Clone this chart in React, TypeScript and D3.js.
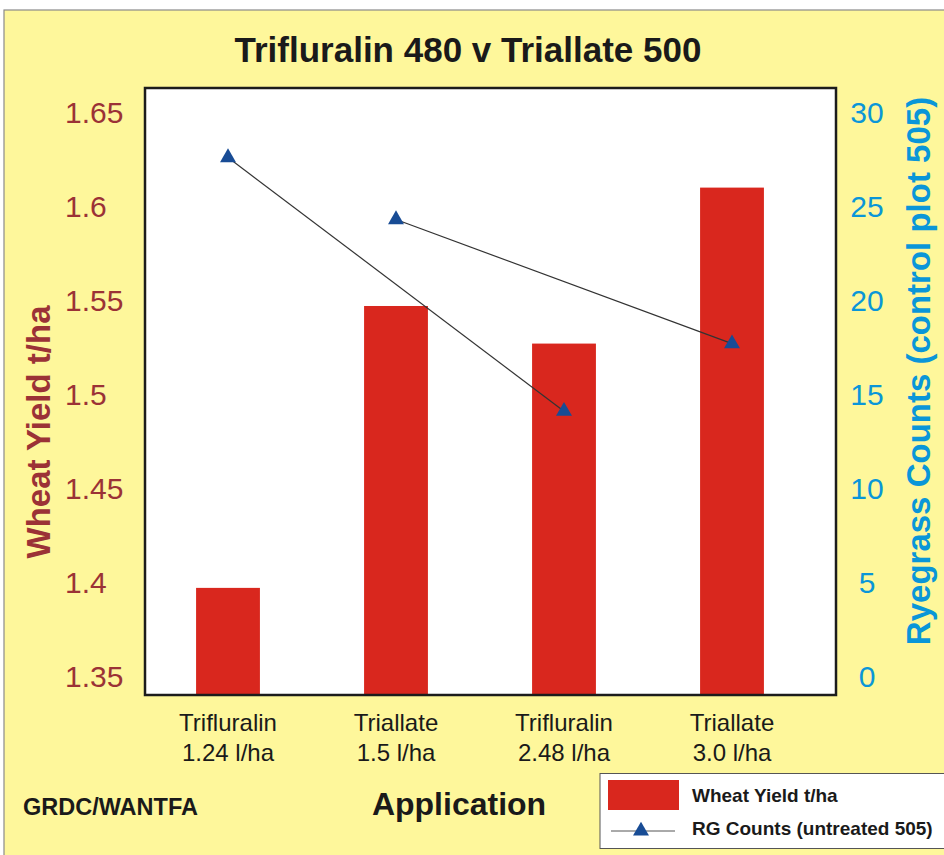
import * as d3 from "d3";

// ---------------- data ----------------
const products = ["Trifluralin", "Triallate", "Trifluralin", "Triallate"];
const rates = ["1.24 l/ha", "1.5 l/ha", "2.48 l/ha", "3.0 l/ha"];
const wheatYield = [1.397, 1.547, 1.527, 1.61];
const rgCounts = [27.6, 24.3, 14.1, 17.7];
const yieldTicks = [1.35, 1.4, 1.45, 1.5, 1.55, 1.6, 1.65];
const countTicks = [0, 5, 10, 15, 20, 25, 30];

const W = 944;
const H = 855;
const plot = { left: 145, right: 836, top: 88, bottom: 695 };

const BG = "#FEF79B";
const RED = "#D9271E";
const BLUE = "#184C95";
const BROWN = "#9B3236";
const CYAN = "#0A96D8";
const FONT = "'Liberation Sans', Arial, Helvetica, sans-serif";

const App = () => {
  const idx = products.map((_, i) => i);

  const x = d3
    .scaleBand<number>()
    .domain(idx)
    .range([144, 816])
    .paddingInner(0.62)
    .paddingOuter(0.31);

  // left and right axes share the same pixel mapping
  const yLeft = d3.scaleLinear().domain([1.34, 1.663]).range([plot.bottom, plot.top]);
  const yRight = d3.scaleLinear().domain([-1, 31.3]).range([plot.bottom, plot.top]);

  const cx = (i: number) => (x(i) as number) + x.bandwidth() / 2;

  // lines connect the same herbicide at its two rates
  const groups = Array.from(d3.group(idx, (i) => products[i]).values());
  const line = d3
    .line<number>()
    .x((i) => cx(i))
    .y((i) => yRight(rgCounts[i]));

  const tri = d3.symbol().type(d3.symbolTriangle).size(110)();

  return (
    <svg
      width={W}
      height={H}
      style={{ position: "absolute", left: 0, top: 0, fontFamily: FONT }}
    >
      <rect x={0} y={0} width={W} height={H} fill="#fff" />
      <rect x={4} y={10} width={W} height={H} fill={BG} stroke="#8a8a8a" strokeWidth={1.2} />

      {/* title */}
      <text x={468} y={62} textAnchor="middle" fontSize={35} fontWeight="bold" fill="#1a1a1a">
        Trifluralin 480 v Triallate 500
      </text>

      {/* plot area */}
      <rect
        x={plot.left}
        y={plot.top}
        width={plot.right - plot.left}
        height={plot.bottom - plot.top}
        fill="#fff"
      />

      {idx.map((i) => (
        <rect
          key={"b" + i}
          x={x(i)}
          y={yLeft(wheatYield[i])}
          width={x.bandwidth()}
          height={plot.bottom - yLeft(wheatYield[i])}
          fill={RED}
        />
      ))}

      {groups.map((g, k) => (
        <path key={"l" + k} d={line(g) || ""} fill="none" stroke="#333" strokeWidth={1.2} />
      ))}

      {idx.map((i) => (
        <path
          key={"t" + i}
          d={tri || ""}
          transform={`translate(${cx(i)},${yRight(rgCounts[i])})`}
          fill={BLUE}
        />
      ))}

      <rect
        x={plot.left}
        y={plot.top}
        width={plot.right - plot.left}
        height={plot.bottom - plot.top}
        fill="none"
        stroke="#1c1c1c"
        strokeWidth={2.5}
      />

      {/* left axis */}
      {yieldTicks.map((t) => (
        <text key={"yl" + t} x={65} y={yLeft(t)} dy="0.36em" fontSize={30} fill={BROWN}>
          {String(t)}
        </text>
      ))}
      <text
        transform={`translate(50,432) rotate(-90)`}
        textAnchor="middle"
        fontSize={33}
        fontWeight="bold"
        fill={BROWN}
      >
        Wheat Yield t/ha
      </text>

      {/* right axis */}
      {countTicks.map((t) => (
        <text
          key={"yr" + t}
          x={867}
          y={yRight(t)}
          dy="0.36em"
          textAnchor="middle"
          fontSize={30}
          fill={CYAN}
        >
          {t}
        </text>
      ))}
      <text
        transform={`translate(930,371) rotate(-90)`}
        textAnchor="middle"
        fontSize={33}
        fontWeight="bold"
        fill={CYAN}
      >
        Ryegrass Counts (control plot 505)
      </text>

      {/* category labels */}
      {idx.map((i) => (
        <g key={"c" + i}>
          <text x={cx(i)} y={731} textAnchor="middle" fontSize={24} fill="#1a1a1a">
            {products[i]}
          </text>
          <text x={cx(i)} y={761} textAnchor="middle" fontSize={24} fill="#1a1a1a">
            {rates[i]}
          </text>
        </g>
      ))}

      <text x={459} y={815} textAnchor="middle" fontSize={32} fontWeight="bold" fill="#1a1a1a">
        Application
      </text>
      <text x={23} y={815} fontSize={23.5} fontWeight="bold" fill="#1a1a1a">
        GRDC/WANTFA
      </text>

      {/* legend */}
      <rect x={600} y={773.5} width={360} height={75} fill="#fff" stroke="#555" strokeWidth={1} />
      <rect x={608} y={780} width={71} height={30} fill={RED} />
      <text x={692} y={802} fontSize={19} fontWeight="bold" fill="#1a1a1a">
        Wheat Yield t/ha
      </text>
      <line x1={611} x2={675} y1={831} y2={831} stroke="#555" strokeWidth={1} />
      <path d={tri || ""} transform="translate(641,831)" fill={BLUE} />
      <text x={692} y={835} fontSize={19} fontWeight="bold" fill="#1a1a1a">
        RG Counts (untreated 505)
      </text>
    </svg>
  );
};

export default App;
